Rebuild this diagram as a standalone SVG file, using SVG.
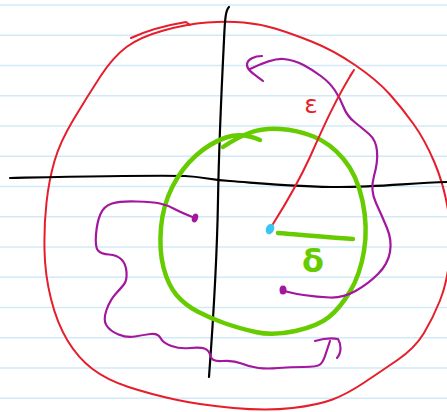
<svg xmlns="http://www.w3.org/2000/svg" width="447" height="412" viewBox="0 0 447 412">
<style>
.rule{stroke:#d2eaf8;stroke-width:1.6;fill:none}
.red{stroke:#e61e2b;stroke-width:2;fill:none;stroke-linecap:round;stroke-linejoin:round}
.blk{stroke:#000;stroke-width:2.2;fill:none;stroke-linecap:round}
.grn{stroke:#66cc00;stroke-width:4.5;fill:none;stroke-linecap:round;stroke-linejoin:round}
.pur{stroke:#a3169e;stroke-width:2.2;fill:none;stroke-linecap:round;stroke-linejoin:round}
.lbl{font-family:"DejaVu Sans",sans-serif;text-anchor:middle}
</style>
<rect width="447" height="412" fill="#fff"/>
<g id="paper">
<path class="rule" d="M0 5H447M0 35.25H447M0 65.5H447M0 95.75H447M0 126H447M0 156.25H447M0 186.5H447M0 216.75H447M0 247H447M0 277.25H447M0 307.5H447M0 337.75H447M0 368H447M0 398.25H447"/>
</g>
<g id="epsilon-ball">
<path class="red" d="M73.5,119.5 Q87,97 100,77 T126.5,47 T163.5,30.5 T207,22.5 T243.5,22.5 T275,28.5 T311.5,41.5 T355,65 T389.5,94 T413.5,124 T434.5,162.5 T448,210 T449.5,259 T440,300.5 T424,333 T397.5,360 T363.5,383 T332.5,399.5 T292.5,408 T233.5,408 T175,399.5 T128.5,387 T92.5,369 T67.5,340.5 T51,299 T44.5,250 T46.5,202.5 T54.5,161 T73.5,119.5"/>
<path class="red" d="M131,38 C148,30 168,25 186,22 L190,25"/>
</g>
<g id="axes">
<path class="blk" d="M229,7 C226,10 225,16 224,40 C221,100 219,140 218,200 C217,260 214,310 209,377"/>
<path class="blk" d="M10,178 C60,177 150,175 185,176 C205,177 210,180 230,181 C270,184 300,187 340,187 C380,187 410,183 447,182"/>
</g>
<g id="delta-ball">
<path class="grn" d="M223,147 Q238,137 250.5,132.5 T280,129 T313.5,136.5 T343.5,159 T362.5,201 T364,251 T350,291.5 T329,317 T295.5,331 T255.5,332 T224,323 T197.5,311.5 T176.5,295 T163.5,267.5 T161,227.5 T172.5,186.5 T196,155.5 T226,137.5 T260,140"/>
<path class="grn" d="M278,233 C300,235 330,237 353,239"/>
</g>
<g id="paths">
<path class="pur" d="M262,56 C255,56 247,59 247,65 C247,71 257,76 263,81"/>
<path class="pur" d="M250,69 Q273,58 283.5,59 T303.5,65 T321.5,76.5 T335,90.5 T343.5,107 T354.5,122 T369,134 T377,151 T374,176 T376,203 T387,228 T390,252 T378,274 T355.5,291 T330,297.5 T303.5,295 T282,290"/>
<ellipse cx="283" cy="290" rx="3.5" ry="4.5" fill="#a3169e"/>
<path class="pur" d="M195,218 Q182,213 174.5,209 T160,203.5 T136.5,201.5 T112,203.5 T100.5,214 T96,234.5 T98,250.5 T109,254.5 T121.5,259.5 T126.5,272 T124.5,283.5 T116,293.5 T106.5,310 T106.5,325.5 T118.5,334.5 T135,336.5 T150.5,334 T160.5,338 T171.5,346 T190,348 T204.5,348.5 T210.5,356 T222.5,361 T241.5,363.5 T258.5,368 T278.5,368 T303.5,367 T320,364.5 T325,356 T330,341"/>
<path class="pur" d="M315,341 C322,339 332,338 338,339 C341,344 342,352 337,358"/>
<ellipse cx="195" cy="218" rx="3" ry="4.5" fill="#a3169e" transform="rotate(20 195 218)"/>
</g>
<g id="radius">
<path class="red" d="M273,224 C285,205 298,183 310,157 C322,130 335,100 354,70 L350,76"/>
<ellipse cx="270" cy="229" rx="4" ry="5.5" fill="#3cc4f2" transform="rotate(25 270 229)"/>
</g>
<g id="labels">
<text class="lbl" x="311" y="113" font-size="25" fill="#e61e2b">ε</text>
<text class="lbl" x="313" y="272" font-size="32" font-weight="bold" fill="#66cc00">δ</text>
</g>
</svg>
